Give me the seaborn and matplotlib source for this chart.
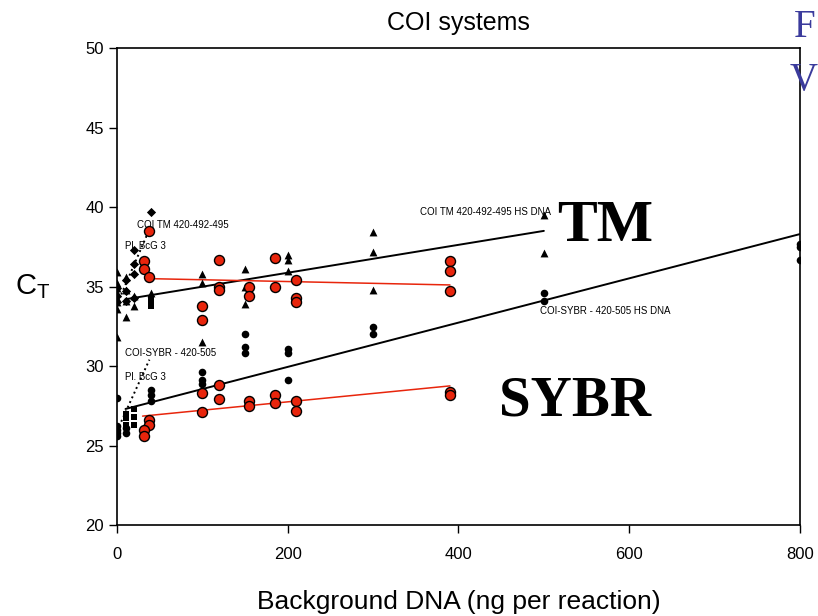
import numpy as np
import pandas as pd
import matplotlib
matplotlib.use('Agg')
import matplotlib.pyplot as plt
import seaborn as sns

# TM, HS DNA background (black triangles)
tm_hs_x = [0, 0, 0, 0, 0, 0, 0, 0, 10, 10, 10, 10, 20, 20, 40, 100, 100, 100,
           150, 150, 150, 200, 200, 200, 300, 300, 300, 500, 500]
tm_hs_y = [35.9, 35.2, 34.9, 34.6, 34.3, 34.0, 33.6, 31.8, 35.6, 34.8, 34.1, 33.1,
           34.4, 33.8, 34.6, 35.8, 35.2, 31.5, 36.1, 35.0, 33.9, 37.0, 36.7, 36.0,
           38.4, 37.2, 34.8, 39.5, 37.1]

# TM, Pl. BcG 3 background (black diamonds and squares)
tm_pl_x = [0, 0, 0, 10, 10, 10, 20, 20, 20, 20, 40]
tm_pl_y = [34.9, 34.4, 34.0, 35.4, 34.7, 34.1, 37.3, 36.4, 35.8, 34.3, 39.7]
tm_pl_sq_x = [40, 40, 40]
tm_pl_sq_y = [34.2, 34.0, 33.8]

# TM, red circles
tm_red_x = [38, 32, 32, 38, 100, 100, 120, 120, 120, 155, 155, 185, 185,
            210, 210, 210, 390, 390, 390]
tm_red_y = [38.5, 36.6, 36.1, 35.6, 33.8, 32.9, 36.7, 35.0, 34.8, 35.0, 34.4,
            36.8, 35.0, 35.4, 34.3, 34.0, 36.6, 36.0, 34.7]

# SYBR, HS DNA background (black circles)
sybr_hs_x = [0, 0, 0, 0, 0, 10, 10, 40, 40, 40, 100, 100, 100, 150, 150, 150,
             200, 200, 200, 300, 300, 500, 500, 800, 800, 800]
sybr_hs_y = [28.0, 26.2, 26.0, 25.8, 25.6, 26.1, 25.8, 28.5, 28.2, 27.8, 29.6,
             29.1, 28.9, 32.0, 31.2, 30.8, 31.1, 30.8, 29.1, 32.45, 32.0, 34.6,
             34.1, 37.7, 37.5, 36.7]

# SYBR, Pl. BcG 3 background (black squares)
sybr_pl_x = [10, 10, 10, 20, 20, 20]
sybr_pl_y = [27.0, 26.7, 26.3, 27.3, 26.8, 26.3]

# SYBR, red circles
sybr_red_x = [38, 38, 32, 32, 100, 100, 120, 120, 155, 155, 185, 185, 210, 210, 390, 390]
sybr_red_y = [26.6, 26.3, 26.0, 25.6, 28.3, 27.1, 28.8, 27.9, 27.8, 27.5, 28.2,
              27.7, 27.8, 27.2, 28.35, 28.2]

# fitted lines (end points)
tm_hs_fit_x, tm_hs_fit_y = [10, 500], [34.2, 38.5]
tm_red_fit_x, tm_red_fit_y = [35, 390], [35.5, 35.1]
tm_pl_fit_x, tm_pl_fit_y = [5, 38], [34.5, 38.6]
sybr_hs_fit_x, sybr_hs_fit_y = [10, 800], [27.3, 38.3]
sybr_red_fit_x, sybr_red_fit_y = [30, 390], [26.85, 28.75]
sybr_pl_fit_x, sybr_pl_fit_y = [5, 38], [26.5, 30.4]

x_ticks = [0, 200, 400, 600, 800]
y_ticks = [20, 25, 30, 35, 40, 45, 50]

sns.set_style('ticks')
plt.rcParams['font.family'] = ['Liberation Sans', 'DejaVu Sans']
plt.rcParams['text.color'] = 'black'
plt.rcParams['axes.labelcolor'] = 'black'

fig = plt.figure(figsize=(8.18, 6.16), dpi=100)
ax = fig.add_axes([0.143, 0.1477, 0.835, 0.7743])

red = '#e8250c'

# fit lines
for fx, fy, col, ls in [(tm_hs_fit_x, tm_hs_fit_y, 'black', '-'),
                        (sybr_hs_fit_x, sybr_hs_fit_y, 'black', '-'),
                        (tm_red_fit_x, tm_red_fit_y, red, '-'),
                        (sybr_red_fit_x, sybr_red_fit_y, red, '-'),
                        (tm_pl_fit_x, tm_pl_fit_y, 'black', ':'),
                        (sybr_pl_fit_x, sybr_pl_fit_y, 'black', ':')]:
    sns.lineplot(x=fx, y=fy, color=col, linestyle=ls, linewidth=1.4 if col == 'black' else 1.1,
                 ax=ax, zorder=2)

sns.scatterplot(x=tm_hs_x, y=tm_hs_y, marker='^', color='black', s=32, linewidth=0, ax=ax, zorder=3)
sns.scatterplot(x=tm_pl_x, y=tm_pl_y, marker='D', color='black', s=22, linewidth=0, ax=ax, zorder=3)
sns.scatterplot(x=tm_pl_sq_x, y=tm_pl_sq_y, marker='s', color='black', s=22, linewidth=0, ax=ax, zorder=3)
sns.scatterplot(x=sybr_hs_x, y=sybr_hs_y, marker='o', color='black', s=30, linewidth=0, ax=ax, zorder=3)
sns.scatterplot(x=sybr_pl_x, y=sybr_pl_y, marker='s', color='black', s=22, linewidth=0, ax=ax, zorder=3)
sns.scatterplot(x=tm_red_x, y=tm_red_y, marker='o', color=red, edgecolor='black', s=52,
                linewidth=1.0, ax=ax, zorder=4)
sns.scatterplot(x=sybr_red_x, y=sybr_red_y, marker='o', color=red, edgecolor='black', s=52,
                linewidth=1.0, ax=ax, zorder=4)

ax.set_xlim(0, 800)
ax.set_ylim(20, 50)
ax.set_xticks(x_ticks)
ax.set_yticks(y_ticks)
ax.tick_params(direction='out', length=6, width=1, labelsize=12, colors='black')
ax.tick_params(axis='x', pad=10)
for sp in ax.spines.values():
    sp.set_visible(True)
    sp.set_linewidth(1.2)
    sp.set_color('black')

ax.set_title('COI systems', fontsize=18, pad=13, color='black')
ax.set_xlabel('Background DNA (ng per reaction)', fontsize=19, labelpad=20)
ax.set_ylabel('C$_\\mathregular{T}$', fontsize=21, rotation=0, labelpad=38, va='center')

small = 7
ax.text(23, 38.9, 'COI TM 420-492-495', fontsize=small, va='center')
ax.text(9, 37.55, 'Pl. BcG 3', fontsize=small, va='center')
ax.text(355, 39.7, 'COI TM 420-492-495 HS DNA', fontsize=small, va='center')
ax.text(9, 30.8, 'COI-SYBR - 420-505', fontsize=small, va='center')
ax.text(9, 29.3, 'Pl. BcG 3', fontsize=small, va='center')
ax.text(496, 33.45, 'COI-SYBR - 420-505 HS DNA', fontsize=small, va='center')

fig.text(0.74, 0.632, 'TM', fontsize=43, fontweight='bold', family='Liberation Serif', va='center', ha='center')
fig.text(0.703, 0.348, 'SYBR', fontsize=41, fontweight='bold', family='Liberation Serif', va='center', ha='center')
fig.text(0.97, 0.985, 'F', fontsize=28, color='#3b3b9c', family='Liberation Serif', va='top', ha='left')
fig.text(0.965, 0.9, 'V', fontsize=28, color='#3b3b9c', family='Liberation Serif', va='top', ha='left')

fig.savefig('out.png', dpi=100)
